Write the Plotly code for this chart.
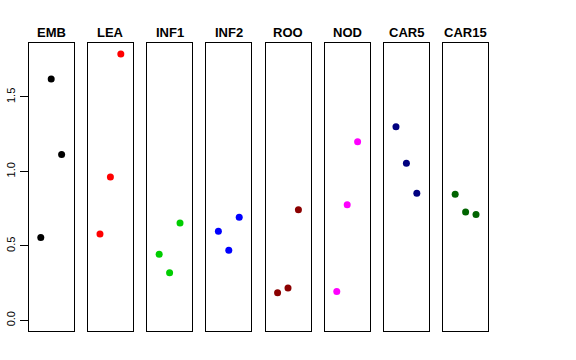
import plotly.graph_objects as go

groups = ["EMB", "LEA", "INF1", "INF2", "ROO", "NOD", "CAR5", "CAR15"]
colors = ["#000000", "#FF0000", "#00CD00", "#0000FF", "#8B0000", "#FF00FF", "#000080", "#006400"]
x_pos = [1, 2, 3]
values = {
    "EMB":   [0.556, 1.620, 1.113],
    "LEA":   [0.580, 0.963, 1.789],
    "INF1":  [0.444, 0.319, 0.654],
    "INF2":  [0.599, 0.471, 0.693],
    "ROO":   [0.185, 0.218, 0.742],
    "NOD":   [0.193, 0.777, 1.200],
    "CAR5":  [1.300, 1.055, 0.854],
    "CAR15": [0.847, 0.728, 0.710],
}
y_ticks = [0.0, 0.5, 1.0, 1.5]

W, H = 576, 360
fig = go.Figure()

panel_left0 = 28.7
panel_step = 59.2
panel_w = 45.0
top_px, bot_px = 43.3, 331.0
ymax = 1.789
ypad = 0.04 * ymax
yrange = [-ypad, ymax + ypad]
xrange = [-0.16, 4.16]

layout = dict(
    width=W, height=H,
    margin=dict(l=0, r=0, t=0, b=0),
    paper_bgcolor="white", plot_bgcolor="white",
    showlegend=False,
    font=dict(family="Liberation Sans, Arial, sans-serif", color="black"),
)
annotations = []
for i, g in enumerate(groups):
    idx = "" if i == 0 else str(i + 1)
    xa = "x" + idx
    ya = "y" + idx
    left = panel_left0 + panel_step * i
    dom_x = [left / W, (left + panel_w) / W]
    dom_y = [1 - bot_px / H, 1 - top_px / H]
    fig.add_trace(go.Scatter(
        x=x_pos, y=values[g], mode="markers",
        marker=dict(color=colors[i], size=7),
        xaxis=xa, yaxis=ya, hoverinfo="skip",
    ))
    layout["xaxis" + idx] = dict(
        domain=dom_x, range=xrange, showgrid=False, zeroline=False,
        showticklabels=False, ticks="", showline=True, mirror=True,
        linecolor="black", linewidth=1, anchor=ya, fixedrange=True,
        automargin=False,
    )
    yax = dict(
        domain=dom_y, range=yrange, showgrid=False, zeroline=False,
        showline=True, mirror=True, linecolor="black", linewidth=1,
        anchor=xa, fixedrange=True, automargin=False,
    )
    if i == 0:
        yax.update(
            tickmode="array", tickvals=y_ticks,
            ticktext=[f"{v:.1f}" for v in y_ticks],
            ticks="outside", ticklen=8, tickcolor="black", tickwidth=1,
            tickangle=-90, tickfont=dict(size=11, color="black"),
            showticklabels=True,
        )
    else:
        yax.update(showticklabels=False, ticks="")
    layout["yaxis" + idx] = yax
    annotations.append(dict(
        text="<b>" + g + "</b>", x=(left + panel_w / 2) / W, y=1 - 32.5 / H,
        xref="paper", yref="paper", xanchor="center", yanchor="middle",
        showarrow=False, font=dict(size=13, color="black",
                                   family="Liberation Sans, Arial, sans-serif"),
    ))
layout["annotations"] = annotations
fig.update_layout(**layout)
fig.write_html("out.html", config={"displayModeBar": False},
               post_script="document.body.style.margin='0';document.body.style.overflow='hidden';")
